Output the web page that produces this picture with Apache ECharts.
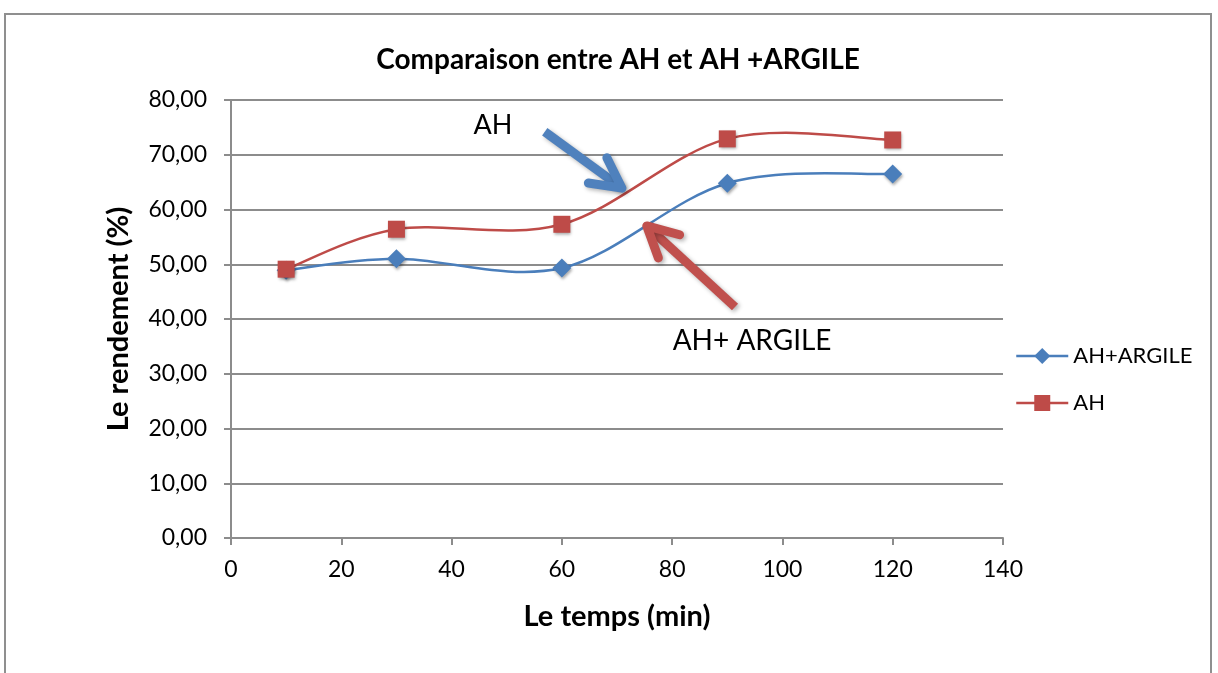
<!DOCTYPE html>
<html><head><meta charset="utf-8">
<script src="https://cdn.jsdelivr.net/npm/echarts@6/dist/echarts.min.js"></script>
<style>html,body{margin:0;padding:0;background:#fff}#c{width:1218px;height:673px}
#frame{position:absolute;left:4px;top:13px;width:1208px;height:700px;border:2px solid #8f8f8f;box-sizing:border-box;pointer-events:none}</style>
</head><body><div id="c"></div><div id="frame"></div>
<script>
const times = [10, 30, 60, 90, 120];
const ahArgile = [48.9, 51.0, 49.3, 64.8, 66.5];
const ah = [49.1, 56.4, 57.3, 72.9, 72.7];
const seriesNames = ['AH+ARGILE', 'AH'];
// annotation arrows in data units: [tailX, tailY, tipX, tipY]
const arrowBlue = [56.9, 74.2, 70.9, 63.9];
const arrowRed = [91.4, 42.2, 75.4, 57.0];
const noteAH = [47.5, 75.4, 'AH'];
const noteArg = [94.5, 36.0, 'AH+ ARGILE'];

const FONT = 'Lato, "Open Sans", sans-serif';
const BLUE = '#4A7EBB', RED = '#BE4B48';
const chart = echarts.init(document.getElementById('c'));
const fmt = v => v.toFixed(2).replace('.', ',');

// Excel-style smoothed curve through the data points (cardinal Bezier in pixel space)
function curveRenderer(xs, ys) {
  return function (params, api) {
    if (params.dataIndex !== 0) return null;
    const P = xs.map((x, i) => api.coord([x, ys[i]]));
    const n = P.length;
    let d = 'M' + P[0][0] + ' ' + P[0][1];
    for (let i = 0; i < n - 1; i++) {
      const p0 = P[Math.max(i - 1, 0)], p1 = P[i], p2 = P[i + 1], p3 = P[Math.min(i + 2, n - 1)];
      const c1 = [p1[0] + (p2[0] - p0[0]) / 6, p1[1] + (p2[1] - p0[1]) / 6];
      const c2 = [p2[0] - (p3[0] - p1[0]) / 6, p2[1] - (p3[1] - p1[1]) / 6];
      d += ' C' + c1[0] + ' ' + c1[1] + ' ' + c2[0] + ' ' + c2[1] + ' ' + p2[0] + ' ' + p2[1];
    }
    return {type: 'path', shape: {pathData: d}, style: {fill: null, stroke: api.visual('color'), lineWidth: 2.5}};
  };
}
const shadow = {shadowBlur: 3, shadowColor: 'rgba(0,0,0,0.35)', shadowOffsetX: 1, shadowOffsetY: 2};

chart.setOption({
  animation: false,
  textStyle: {fontFamily: FONT},
  title: {text: 'Comparaison entre AH et AH +ARGILE', left: 613, top: 41, textAlign: 'center',
    textStyle: {fontFamily: FONT, fontWeight: 'bold', fontSize: 28, color: '#000'}},
  grid: {left: 231, right: 215, top: 100, bottom: 135},
  legend: {orient: 'vertical', left: 1010, top: 340, itemGap: 25, itemWidth: 52, itemHeight: 20,
    textStyle: {fontFamily: FONT, fontSize: 22, color: '#000'},
    data: [
      {name: seriesNames[0], lineStyle: {opacity: 1, width: 2.5, color: BLUE}},
      {name: seriesNames[1], lineStyle: {opacity: 1, width: 2.5, color: RED}}
    ]},
  xAxis: {type: 'value', min: 0, max: 140, interval: 20,
    name: 'Le temps (min)', nameLocation: 'middle', nameGap: 64,
    nameTextStyle: {fontFamily: FONT, fontWeight: 'bold', fontSize: 29, color: '#000'},
    axisLine: {lineStyle: {color: '#8c8c8c', width: 2}},
    axisTick: {show: true, length: 7, lineStyle: {color: '#8c8c8c', width: 2}},
    axisLabel: {fontFamily: FONT, fontSize: 23, color: '#000', margin: 20},
    splitLine: {show: false}},
  yAxis: {type: 'value', min: 0, max: 80, interval: 10,
    name: 'Le rendement (%)', nameLocation: 'middle', nameGap: 98, nameRotate: 90,
    nameTextStyle: {fontFamily: FONT, fontWeight: 'bold', fontSize: 29, color: '#000'},
    axisLine: {show: true, lineStyle: {color: '#8c8c8c', width: 2}},
    axisTick: {show: true, length: 7, lineStyle: {color: '#8c8c8c', width: 2}},
    axisLabel: {fontFamily: FONT, fontSize: 23, color: '#000', margin: 24, formatter: fmt},
    splitLine: {show: true, lineStyle: {color: '#8c8c8c', width: 2}}},
  series: [
    {name: 'curve-argile', type: 'custom', z: 2, color: BLUE, data: times.map((t, i) => [t, ahArgile[i]]),
      encode: {x: 0, y: 1}, renderItem: curveRenderer(times, ahArgile)},
    {name: 'curve-ah', type: 'custom', z: 2, color: RED, data: times.map((t, i) => [t, ah[i]]),
      encode: {x: 0, y: 1}, renderItem: curveRenderer(times, ah)},
    {name: seriesNames[0], type: 'line', z: 3, data: times.map((t, i) => [t, ahArgile[i]]),
      symbol: 'diamond', symbolSize: 19, color: BLUE,
      lineStyle: {width: 2.5, color: BLUE, opacity: 0},
      itemStyle: Object.assign({color: BLUE}, shadow)},
    {name: seriesNames[1], type: 'line', z: 3, data: times.map((t, i) => [t, ah[i]]),
      symbol: 'rect', symbolSize: 17, color: RED,
      lineStyle: {width: 2.5, color: RED, opacity: 0},
      itemStyle: Object.assign({color: RED}, shadow)}
  ]
});

function arrowGraphics(a, color) {
  const t = chart.convertToPixel({gridIndex: 0}, [a[0], a[1]]);
  const h = chart.convertToPixel({gridIndex: 0}, [a[2], a[3]]);
  const ang = Math.atan2(h[1] - t[1], h[0] - t[0]);
  const L = 34, spread = 0.48;
  const b1 = [h[0] - L * Math.cos(ang - spread), h[1] - L * Math.sin(ang - spread)];
  const b2 = [h[0] - L * Math.cos(ang + spread), h[1] - L * Math.sin(ang + spread)];
  const style = {stroke: color, lineWidth: 9, lineCap: 'round', lineJoin: 'round', fill: null,
    shadowBlur: 4, shadowColor: 'rgba(0,0,0,0.3)', shadowOffsetX: 2, shadowOffsetY: 2};
  return [
    {type: 'polyline', shape: {points: [t, h]}, style: Object.assign({}, style, {lineCap: 'butt'}), z: 10},
    {type: 'polyline', shape: {points: [b1, h, b2]}, style: style, z: 10}
  ];
}
function note(n, size) {
  const p = chart.convertToPixel({gridIndex: 0}, [n[0], n[1]]);
  return {type: 'text', x: p[0], y: p[1], z: 11,
    style: {text: n[2], fill: '#000', fontFamily: FONT, fontSize: size, align: 'center', verticalAlign: 'middle'}};
}
chart.setOption({graphic: [].concat(
  arrowGraphics(arrowBlue, '#4F81BD'),
  arrowGraphics(arrowRed, '#C0504D'),
  [note(noteAH, 27), note(noteArg, 28)]
)});
</script></body></html>
